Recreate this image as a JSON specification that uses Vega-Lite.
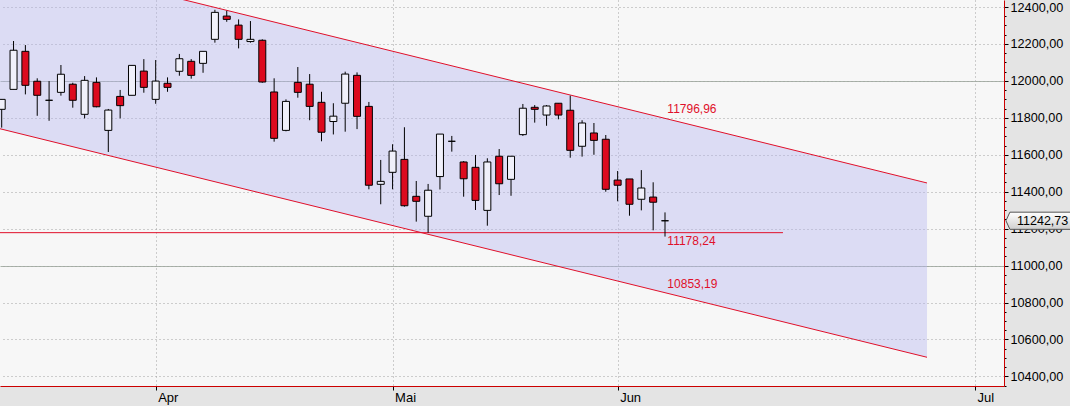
{
  "$schema": "https://vega.github.io/schema/vega-lite/v6.json",
  "width": 1004,
  "height": 386,
  "autosize": {"type": "none"},
  "padding": {"left": 0, "top": 0, "right": 66, "bottom": 20},
  "background": "#e4e4e4",
  "view": {"fill": "#f7f7f7", "stroke": null},
  "config": {"font": "Liberation Sans"},
  "datasets": {
    "candles": [
      {"i":0,"o":11846,"h":11900,"l":11747,"c":11900},
      {"i":1,"o":11954,"h":12216,"l":11954,"c":12166},
      {"i":2,"o":12160,"h":12194,"l":11927,"c":11976},
      {"i":3,"o":11998,"h":12014,"l":11811,"c":11922},
      {"i":4,"o":11895,"h":11999,"l":11784,"c":11895},
      {"i":5,"o":11938,"h":12086,"l":11920,"c":12036},
      {"i":6,"o":11982,"h":11990,"l":11855,"c":11895},
      {"i":7,"o":11819,"h":12026,"l":11797,"c":12003},
      {"i":8,"o":11992,"h":12019,"l":11857,"c":11860},
      {"i":9,"o":11732,"h":11848,"l":11615,"c":11842},
      {"i":10,"o":11916,"h":11951,"l":11797,"c":11866},
      {"i":11,"o":11922,"h":12084,"l":11922,"c":12084},
      {"i":12,"o":12053,"h":12118,"l":11936,"c":11965},
      {"i":13,"o":11900,"h":12113,"l":11876,"c":11999},
      {"i":14,"o":11987,"h":12019,"l":11941,"c":11965},
      {"i":15,"o":12052,"h":12146,"l":12028,"c":12120},
      {"i":16,"o":12106,"h":12118,"l":12012,"c":12030},
      {"i":17,"o":12095,"h":12160,"l":12044,"c":12160},
      {"i":18,"o":12225,"h":12385,"l":12207,"c":12371},
      {"i":19,"o":12351,"h":12380,"l":12320,"c":12333},
      {"i":20,"o":12302,"h":12333,"l":12176,"c":12225},
      {"i":21,"o":12213,"h":12324,"l":12207,"c":12225},
      {"i":22,"o":12220,"h":12225,"l":11990,"c":11994},
      {"i":23,"o":11940,"h":12014,"l":11671,"c":11689},
      {"i":24,"o":11732,"h":11900,"l":11727,"c":11889},
      {"i":25,"o":11992,"h":12075,"l":11909,"c":11938},
      {"i":26,"o":11982,"h":12037,"l":11787,"c":11862},
      {"i":27,"o":11884,"h":11941,"l":11673,"c":11722},
      {"i":28,"o":11780,"h":11879,"l":11710,"c":11809},
      {"i":29,"o":11879,"h":12050,"l":11725,"c":12037},
      {"i":30,"o":12030,"h":12046,"l":11739,"c":11808},
      {"i":31,"o":11862,"h":11886,"l":11413,"c":11435},
      {"i":32,"o":11440,"h":11572,"l":11332,"c":11456},
      {"i":33,"o":11505,"h":11657,"l":11413,"c":11620},
      {"i":34,"o":11575,"h":11749,"l":11319,"c":11324},
      {"i":35,"o":11375,"h":11458,"l":11238,"c":11348},
      {"i":36,"o":11267,"h":11442,"l":11178,"c":11408},
      {"i":37,"o":11482,"h":11712,"l":11412,"c":11712},
      {"i":38,"o":11673,"h":11702,"l":11617,"c":11673},
      {"i":39,"o":11561,"h":11566,"l":11373,"c":11470},
      {"i":40,"o":11532,"h":11599,"l":11301,"c":11353},
      {"i":41,"o":11299,"h":11581,"l":11216,"c":11561},
      {"i":42,"o":11592,"h":11631,"l":11382,"c":11443},
      {"i":43,"o":11467,"h":11592,"l":11378,"c":11592},
      {"i":44,"o":11709,"h":11875,"l":11702,"c":11852},
      {"i":45,"o":11857,"h":11869,"l":11774,"c":11846},
      {"i":46,"o":11815,"h":11869,"l":11757,"c":11864},
      {"i":47,"o":11879,"h":11879,"l":11792,"c":11815},
      {"i":48,"o":11841,"h":11920,"l":11584,"c":11624},
      {"i":49,"o":11646,"h":11787,"l":11590,"c":11772},
      {"i":50,"o":11718,"h":11772,"l":11600,"c":11678},
      {"i":51,"o":11684,"h":11707,"l":11400,"c":11413},
      {"i":52,"o":11463,"h":11512,"l":11348,"c":11435},
      {"i":53,"o":11469,"h":11469,"l":11270,"c":11332},
      {"i":54,"o":11359,"h":11517,"l":11299,"c":11420},
      {"i":55,"o":11371,"h":11451,"l":11191,"c":11343},
      {"i":56,"o":11242.73,"h":11288,"l":11157,"c":11242.73}
    ],
    "channel": [
      {"i":-0.1435,"up":12684.6,"lo":11740.8},
      {"i":78.12,"up":11447.3,"lo":10503.5}
    ],
    "support": [
      {"i":-0.1435,"i2":65.96,"v":11178.24}
    ],
    "labels": [
      {"i":56.2,"v":11796.96,"t":"11796,96","kind":"channel"},
      {"i":56.2,"v":10853.19,"t":"10853,19","kind":"channel"},
      {"i":56.2,"v":11178.24,"t":"11178,24","kind":"support"}
    ],
    "last": [
      {"v":11242.73,"t":"11242,73"}
    ]
  },
  "resolve": {"scale": {"x": "shared", "y": "shared"}, "axis": {"x": "independent", "y": "independent"}},
  "layer": [
    {
      "data": {"name": "channel"},
      "mark": {"type": "area", "color": "#b4b4f0", "opacity": 0.4, "clip": true},
      "encoding": {
        "x": {"field": "i", "type": "quantitative", "scale": {"domain": [-0.1435, 84.62], "nice": false, "zero": false, "padding": 0},
          "axis": {"orient": "bottom", "values": [13, 33, 52, 82.17],
            "labelExpr": "datum.value < 20 ? 'Apr' : datum.value < 40 ? 'Mai' : datum.value < 60 ? 'Jun' : 'Jul'",
            "grid": true, "gridColor": "#a0a0a0", "gridDash": [1, 3], "gridWidth": 1,
            "domain": true, "domainColor": "#cc0000", "domainWidth": 1,
            "ticks": true, "tickColor": "#000000", "tickSize": 4,
            "labelAlign": "left", "labelOffset": 2, "labelPadding": 1, "labelFont": "Liberation Sans", "labelFontSize": 13, "labelColor": "#000000", "labelBaseline": "top", "labelFlush": false, "labelOverlap": false, "title": null}},
        "y": {"field": "up", "type": "quantitative", "scale": {"domain": [10348, 12438], "nice": false, "zero": false},
          "axis": {"orient": "right", "values": [10350,10400,10450,10500,10550,10600,10650,10700,10750,10800,10850,10900,10950,11000,11050,11100,11150,11200,11250,11300,11350,11400,11450,11500,11550,11600,11650,11700,11750,11800,11850,11900,11950,12000,12050,12100,12150,12200,12250,12300,12350,12400],
            "labels": false, "grid": false, "domain": false, "ticks": true, "tickSize": 2, "tickColor": "#000000", "title": null}},
        "y2": {"field": "lo"}
      }
    },
    {
      "data": {"name": "channel"},
      "mark": {"type": "line", "color": "#e0102a", "strokeWidth": 1, "clip": true},
      "encoding": {
        "x": {"field": "i", "type": "quantitative", "scale": {"domain": [-0.1435, 84.62], "nice": false, "zero": false, "padding": 0}, "axis": null},
        "y": {"field": "up", "type": "quantitative", "scale": {"domain": [10348, 12438], "nice": false, "zero": false}, "axis": null}
      }
    },
    {
      "data": {"name": "channel"},
      "mark": {"type": "line", "color": "#e0102a", "strokeWidth": 1, "clip": true},
      "encoding": {
        "x": {"field": "i", "type": "quantitative", "scale": {"domain": [-0.1435, 84.62], "nice": false, "zero": false, "padding": 0}, "axis": null},
        "y": {"field": "lo", "type": "quantitative", "scale": {"domain": [10348, 12438], "nice": false, "zero": false}, "axis": null}
      }
    },
    {
      "data": {"name": "support"},
      "mark": {"type": "rule", "color": "#e0102a", "strokeWidth": 1, "clip": true},
      "encoding": {
        "x": {"field": "i", "type": "quantitative", "scale": {"domain": [-0.1435, 84.62], "nice": false, "zero": false, "padding": 0}, "axis": null},
        "x2": {"field": "i2"},
        "y": {"field": "v", "type": "quantitative", "scale": {"domain": [10348, 12438], "nice": false, "zero": false}, "axis": null}
      }
    },
    {
      "data": {"name": "candles"},
      "mark": {"type": "rule", "color": "#000000", "strokeWidth": 1, "clip": true},
      "encoding": {
        "x": {"field": "i", "type": "quantitative", "scale": {"domain": [-0.1435, 84.62], "nice": false, "zero": false, "padding": 0}, "axis": null},
        "y": {"field": "l", "type": "quantitative", "scale": {"domain": [10348, 12438], "nice": false, "zero": false},
          "axis": {"orient": "right", "values": [11000, 12000], "grid": true, "gridColor": "#aab4aa", "gridDash": [], "gridWidth": 1, "labels": false, "ticks": false, "domain": false, "title": null}},
        "y2": {"field": "h"}
      }
    },
    {
      "data": {"name": "candles"},
      "mark": {"type": "bar", "size": 7, "stroke": "#000000", "strokeWidth": 1, "clip": true},
      "encoding": {
        "x": {"field": "i", "type": "quantitative", "scale": {"domain": [-0.1435, 84.62], "nice": false, "zero": false, "padding": 0}, "axis": null},
        "y": {"field": "o", "type": "quantitative", "scale": {"domain": [10348, 12438], "nice": false, "zero": false},
          "axis": {"orient": "right", "values": [10400, 10600, 10800, 11000, 11200, 11400, 11600, 11800, 12000, 12200, 12400],
            "labelExpr": "replace(format(datum.value, '.2f'), '.', ',')",
            "grid": true, "gridColor": "#a0a0a0", "gridDash": [1, 3], "gridWidth": 1,
            "domain": true, "domainColor": "#cc0000", "domainWidth": 1,
            "ticks": true, "tickColor": "#000000", "tickSize": 4,
            "labelPadding": 2, "labelFont": "Liberation Sans", "labelFontSize": 12.7, "labelColor": "#000000", "labelBaseline": "middle", "labelFlush": false, "labelOverlap": false, "title": null}},
        "y2": {"field": "c"},
        "fill": {"condition": {"test": "datum.c < datum.o", "value": "#dc0a1e"}, "value": "#f0f0fa"}
      }
    },
    {
      "data": {"name": "labels"},
      "transform": [{"filter": "datum.kind == 'channel'"}],
      "mark": {"type": "text", "align": "left", "baseline": "middle", "dy": -9, "color": "#e0102a", "fontSize": 12, "font": "Liberation Sans"},
      "encoding": {
        "x": {"field": "i", "type": "quantitative", "scale": {"domain": [-0.1435, 84.62], "nice": false, "zero": false, "padding": 0}, "axis": null},
        "y": {"field": "v", "type": "quantitative", "scale": {"domain": [10348, 12438], "nice": false, "zero": false}, "axis": null},
        "text": {"field": "t"}
      }
    },
    {
      "data": {"name": "labels"},
      "transform": [{"filter": "datum.kind == 'support'"}],
      "mark": {"type": "text", "align": "left", "baseline": "middle", "dy": 8, "color": "#e0102a", "fontSize": 12, "font": "Liberation Sans"},
      "encoding": {
        "x": {"field": "i", "type": "quantitative", "scale": {"domain": [-0.1435, 84.62], "nice": false, "zero": false, "padding": 0}, "axis": null},
        "y": {"field": "v", "type": "quantitative", "scale": {"domain": [10348, 12438], "nice": false, "zero": false}, "axis": null},
        "text": {"field": "t"}
      }
    },
    {
      "data": {"name": "last"},
      "mark": {"type": "point", "shape": "M -1 0 L -0.88 -0.26 L 1 -0.26 L 1 0.26 L -0.88 0.26 Z", "size": 4356, "filled": true,
        "fill": {"gradient": "linear", "x1": 0, "y1": 0, "x2": 0, "y2": 1, "stops": [{"offset": 0, "color": "#ffffff"}, {"offset": 1, "color": "#cfcfcf"}]},
        "stroke": "#555555", "strokeWidth": 1, "opacity": 1, "clip": false},
      "encoding": {
        "x": {"datum": 87.57, "type": "quantitative", "scale": {"domain": [-0.1435, 84.62], "nice": false, "zero": false, "padding": 0}, "axis": null},
        "y": {"field": "v", "type": "quantitative", "scale": {"domain": [10348, 12438], "nice": false, "zero": false}, "axis": null}
      }
    },
    {
      "data": {"name": "last"},
      "mark": {"type": "text", "align": "left", "baseline": "middle", "color": "#000000", "fontSize": 12.5, "font": "Liberation Sans", "clip": false},
      "encoding": {
        "x": {"datum": 85.72, "type": "quantitative", "scale": {"domain": [-0.1435, 84.62], "nice": false, "zero": false, "padding": 0}, "axis": null},
        "y": {"field": "v", "type": "quantitative", "scale": {"domain": [10348, 12438], "nice": false, "zero": false}, "axis": null},
        "text": {"field": "t"}
      }
    }
  ]
}
